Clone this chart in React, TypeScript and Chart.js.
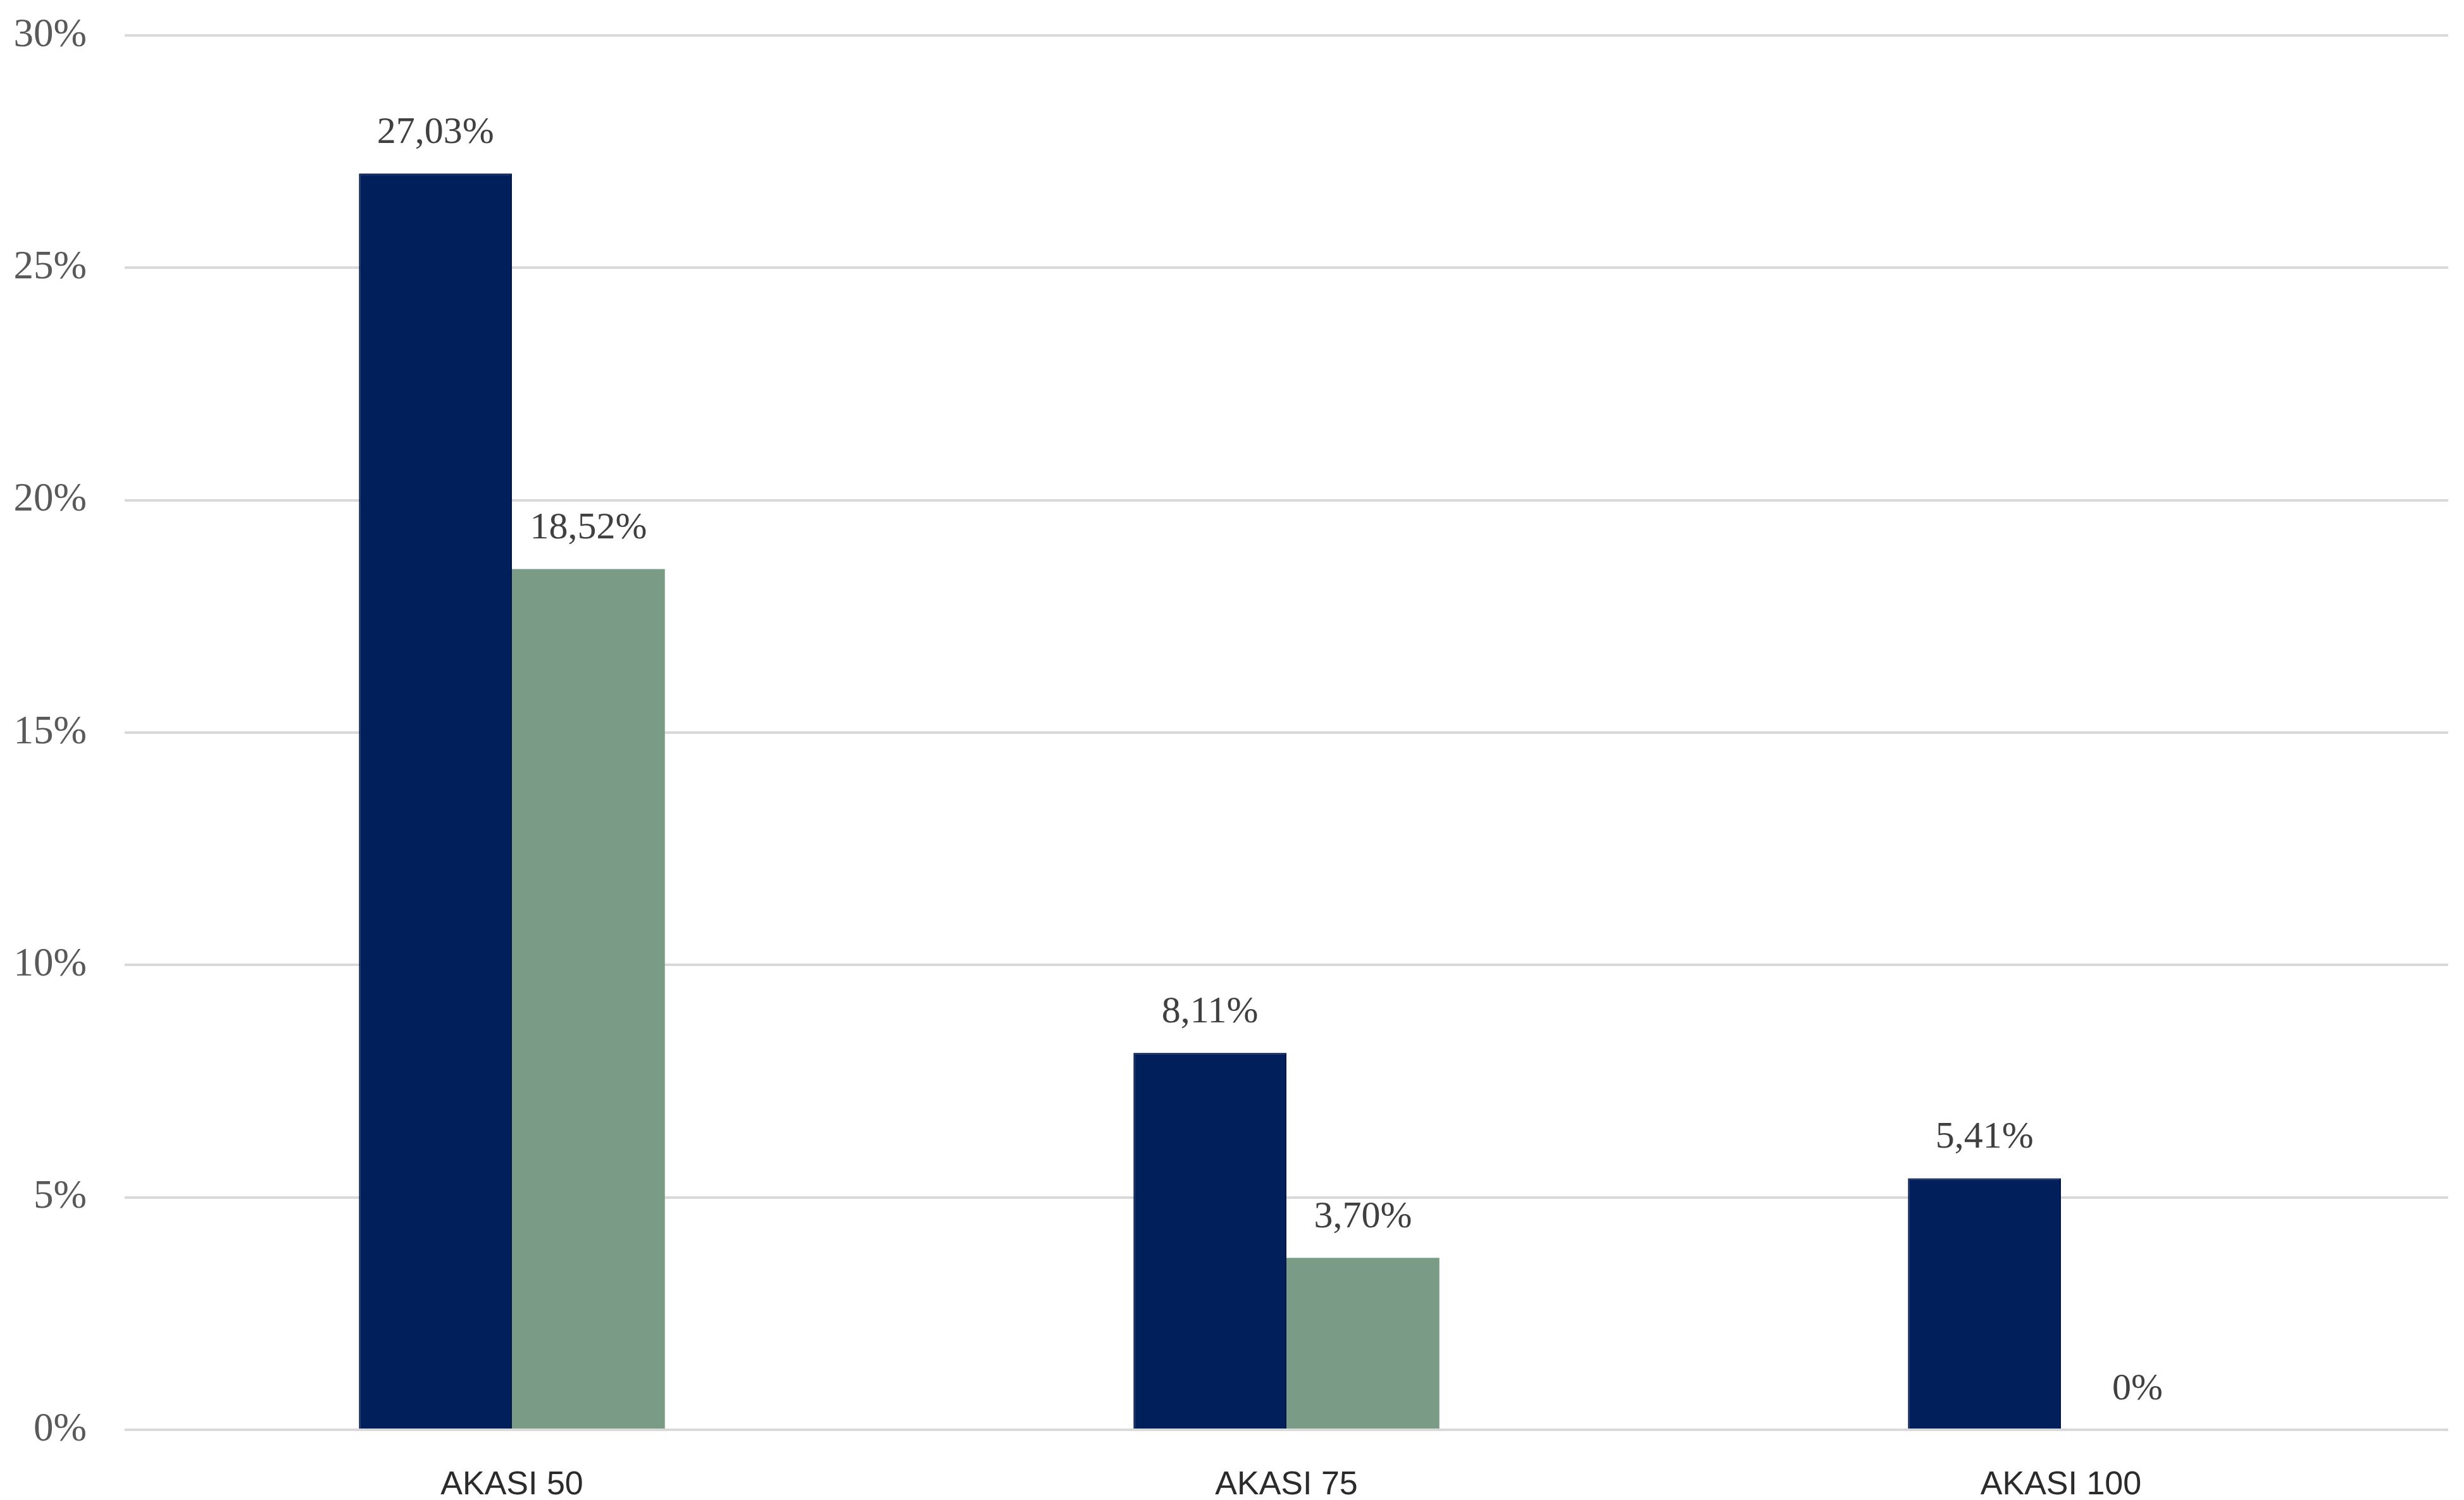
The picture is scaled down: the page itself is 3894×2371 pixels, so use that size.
import { useEffect, useRef } from "react";
import { Chart, registerables, type ChartConfiguration, type Plugin } from "chart.js";

Chart.register(...registerables);

const categories = ["AKASI 50", "AKASI 75", "AKASI 100"];
const seriesNames = ["Seri 1", "Seri 2"];
const navyValues = [27.03, 8.11, 5.41];
const greenValues = [18.52, 3.7, 0];
const yTicks = [0, 5, 10, 15, 20, 25, 30];

const NAVY = "#011f5b";
const GREEN = "#7a9c87";

function formatPct(v: number): string {
  if (v === 0) return "0%";
  return v.toFixed(2).replace(".", ",") + "%";
}

// draws the value over each bar, like the Excel data labels
const valueLabels: Plugin<"bar"> = {
  id: "valueLabels",
  afterDatasetsDraw(chart) {
    const ctx = chart.ctx;
    ctx.save();
    ctx.font = '60px "Liberation Serif", "Times New Roman", serif';
    ctx.fillStyle = "#404040";
    ctx.textAlign = "center";
    ctx.textBaseline = "middle";
    chart.data.datasets.forEach((ds, di) => {
      const meta = chart.getDatasetMeta(di);
      meta.data.forEach((bar, i) => {
        const v = ds.data[i] as number;
        ctx.fillText(formatPct(v), bar.x, bar.y - 64);
      });
    });
    ctx.restore();
  },
};

export default function App() {
  const canvasRef = useRef<HTMLCanvasElement>(null);
  const chartRef = useRef<Chart | null>(null);

  useEffect(() => {
    document.body.style.margin = "0";
    const canvas = canvasRef.current;
    const ctx = canvas?.getContext("2d");
    if (!ctx || !canvas) return;

    chartRef.current?.destroy();

    const config: ChartConfiguration<"bar"> = {
      type: "bar",
      data: {
        labels: categories,
        datasets: [
          {
            label: seriesNames[0],
            data: navyValues,
            backgroundColor: NAVY,
            borderColor: "#00164a",
            borderWidth: 2,
            categoryPercentage: 0.395,
            barPercentage: 1,
          },
          {
            label: seriesNames[1],
            data: greenValues,
            backgroundColor: GREEN,
            borderWidth: 0,
            categoryPercentage: 0.395,
            barPercentage: 1,
          },
        ],
      },
      options: {
        responsive: false,
        animation: false,
        devicePixelRatio: 1,
        layout: { padding: { top: 56, right: 25, left: 0, bottom: 0 } },
        plugins: {
          legend: { display: false },
          tooltip: { enabled: false },
        },
        scales: {
          x: {
            grid: { display: false },
            border: { display: false },
            ticks: {
              color: "#2b2b2b",
              padding: 48,
              font: { size: 52, family: '"Liberation Sans", Arial, sans-serif' },
            },
            afterFit: (scale) => {
              scale.height = 111;
            },
          },
          y: {
            min: 0,
            max: 30,
            afterBuildTicks: (scale) => {
              scale.ticks = yTicks.map((v) => ({ value: v }));
            },
            grid: { color: "#d9d9d9", lineWidth: 4, drawTicks: false },
            border: { display: false },
            ticks: {
              color: "#595959",
              padding: 60,
              font: { size: 63, family: '"Liberation Serif", "Times New Roman", serif' },
              callback: (v) => `${v}%`,
            },
            afterFit: (scale) => {
              scale.width = 197;
              scale.paddingTop = 0;
              scale.paddingBottom = 0;
            },
          },
        },
      },
      plugins: [valueLabels],
    };

    chartRef.current = new Chart(ctx, config);
    return () => chartRef.current?.destroy();
  }, []);

  return (
    <div style={{ width: 3894, height: 2371, background: "#ffffff" }}>
      <canvas ref={canvasRef} width={3894} height={2371} style={{ display: "block" }} />
    </div>
  );
}
